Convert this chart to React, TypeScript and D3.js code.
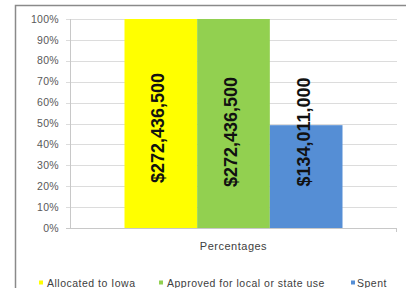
import React from "react";
import * as d3 from "d3";

const categories = ["Percentages"];
const seriesNames = ["Allocated to Iowa", "Approved for local or state use", "Spent"];
const seriesAmounts = [272436500, 272436500, 134011000];
const seriesLabels = ["$272,436,500", "$272,436,500", "$134,011,000"];
const seriesColors = ["#ffff00", "#92d050", "#558ed5"];
const yTicks = [0, 0.1, 0.2, 0.3, 0.4, 0.5, 0.6, 0.7, 0.8, 0.9, 1.0];

const W = 406;
const H = 288;
const plot = { left: 70, right: 397, top: 19, bottom: 228 };
const legendX = [{ sq: 39, tx: 47 }, { sq: 159, tx: 167 }, { sq: 351, tx: 357 }];
const legendY = 283;
const labelYs = [128, 132, 132];
const font = "'Liberation Sans', Arial, sans-serif";

export default function App() {
  const total = seriesAmounts[0];
  const values = seriesAmounts.map((v) => v / total);

  const y = d3.scaleLinear().domain([0, 1]).range([plot.bottom, plot.top]);
  const x0 = d3.scaleBand().domain(categories).range([plot.left, plot.right]);
  const gapRatio = 1.5;
  const barW = x0.bandwidth() / (seriesNames.length + gapRatio);
  const x1 = d3
    .scaleBand()
    .domain(seriesNames)
    .range([0, barW * seriesNames.length]);
  const groupStart = (x0(categories[0]) as number) + (barW * gapRatio) / 2;
  const fmt = d3.format(".0%");

  return (
    <svg
      width={W}
      height={H}
      style={{ position: "absolute", left: 0, top: 0, background: "#fff" }}
    >
      <rect x={15.5} y={5.5} width={420} height={300} fill="#fff" stroke="#8a8a8a" strokeWidth={1.5} />
      {yTicks.map((t) => (
        <g key={t}>
          <line
            x1={plot.left - 4}
            x2={plot.right}
            y1={Math.round(y(t)) + 0.5}
            y2={Math.round(y(t)) + 0.5}
            stroke={t === 0 ? "#c8c8c8" : "#dcdcdc"}
            strokeWidth={1.2}
          />
          <text
            x={59}
            y={y(t)}
            dy="0.35em"
            textAnchor="end"
            fontFamily={font}
            fontSize={10.5}
            letterSpacing={0.3}
            fill="#595959"
          >
            {fmt(t)}
          </text>
        </g>
      ))}
      <line x1={plot.left + 0.5} x2={plot.left + 0.5} y1={plot.top} y2={plot.bottom + 0.5} stroke="#c8c8c8" />
      <line x1={plot.right - 0.5} x2={plot.right - 0.5} y1={plot.bottom} y2={plot.bottom + 4} stroke="#c8c8c8" />
      {seriesNames.map((s, i) => {
        const bx = groupStart + (x1(s) as number);
        const bw = x1.bandwidth();
        const cx = bx + bw / 2 - 2.5;
        return (
          <g key={s}>
            <rect x={bx} y={y(values[i])} width={bw} height={plot.bottom - y(values[i])} fill={seriesColors[i]} />
            <text
              transform={`translate(${cx},${labelYs[i]}) rotate(-90)`}
              textAnchor="middle"
              dominantBaseline="central"
              fontFamily={font}
              fontWeight="bold"
              fontSize={18}
              fill="#111"
            >
              {seriesLabels[i]}
            </text>
          </g>
        );
      })}
      {categories.map((c) => (
        <text
          key={c}
          x={groupStart + barW * seriesNames.length / 2}
          y={246}
          dy="0.35em"
          textAnchor="middle"
          fontFamily={font}
          fontSize={11}
          letterSpacing={0.5}
          fill="#404040"
        >
          {c}
        </text>
      ))}
      {seriesNames.map((s, i) => (
        <g key={s}>
          <rect x={legendX[i].sq} y={legendY - 2.5} width={4} height={4} fill={seriesColors[i]} />
          <text
            x={legendX[i].tx}
            y={legendY}
            dy="0.35em"
            fontFamily={font}
            fontSize={10.5}
            letterSpacing={0.5}
            fill="#404040"
          >
            {s}
          </text>
        </g>
      ))}
    </svg>
  );
}
